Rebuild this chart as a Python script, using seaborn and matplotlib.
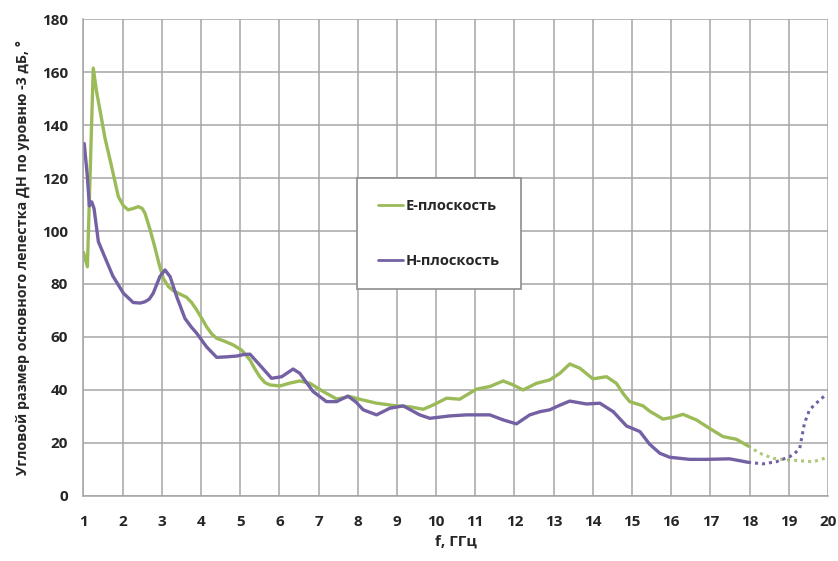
import pandas as pd
import matplotlib.pyplot as plt
import seaborn as sns
from matplotlib.lines import Line2D

# E-плоскость (сплошная часть и пунктирное продолжение)
e_freq = [1.0, 1.1, 1.25, 1.33, 1.42, 1.55, 1.68, 1.89, 2.02, 2.14, 2.27, 2.4, 2.5, 2.57,
          2.7, 2.82, 2.93, 3.04, 3.17, 3.29, 3.46, 3.63, 3.76, 3.89, 4.02, 4.14, 4.27, 4.4,
          4.6, 4.82, 5.04, 5.25, 5.38, 5.5, 5.63, 5.76, 6.01, 6.27, 6.52, 6.78, 7.12, 7.46,
          7.8, 8.05, 8.48, 8.99, 9.35, 9.67, 9.92, 10.27, 10.6, 11.03, 11.37, 11.71, 11.95,
          12.22, 12.56, 12.9, 13.16, 13.41, 13.67, 14.0, 14.35, 14.6, 14.78, 14.94, 15.28,
          15.45, 15.79, 16.05, 16.3, 16.64, 16.98, 17.32, 17.66, 17.96]
e_val = [92, 86.5, 161.5, 153, 145.7, 135, 126.8, 113, 109.5, 108, 108.5, 109.2, 108.5, 106.7,
         100.5, 94, 87.5, 82, 79, 77.5, 76.2, 75, 73, 70.2, 67, 63.9, 61.2, 59.5,
         58.4, 57, 55, 51.3, 47.8, 45, 42.8, 41.9, 41.5, 42.6, 43.4, 42.5, 39.4, 36.6,
         37.5, 36.5, 35, 34, 33.6, 32.7, 34.3, 36.9, 36.5, 40.3, 41.3, 43.4, 42,
         40, 42.5, 43.8, 46.3, 49.8, 48.2, 44.2, 45, 42.5, 38.5, 35.6, 34,
         32, 29, 29.7, 30.8, 28.7, 25.5, 22.4, 21.4, 18.9]
e_freq_ext = [17.96, 18.26, 18.6, 18.94, 19.28, 19.62, 19.87, 19.97]
e_val_ext = [18.9, 16.1, 14.2, 13.6, 13.3, 12.9, 14.0, 14.5]

# H-плоскость
h_freq = [1.02, 1.1, 1.15, 1.21, 1.27, 1.38, 1.55, 1.75, 2.02, 2.27, 2.45, 2.57, 2.68, 2.78,
          2.95, 3.08, 3.21, 3.38, 3.59, 3.75, 3.89, 4.14, 4.4, 4.65, 4.91, 5.1, 5.25, 5.5,
          5.8, 6.06, 6.35, 6.52, 6.86, 7.2, 7.46, 7.75, 7.95, 8.14, 8.48, 8.82, 9.16, 9.58,
          9.84, 10.35, 10.78, 11.37, 11.71, 12.05, 12.39, 12.65, 12.9, 13.15, 13.41, 13.84,
          14.18, 14.52, 14.86, 15.2, 15.45, 15.71, 15.96, 16.47, 16.9, 17.49, 17.75, 17.96]
h_val = [133, 120.5, 109.5, 111, 108.5, 96, 90, 83, 76.5, 73, 72.8, 73.3, 74.3, 76.5,
         82.8, 85.3, 82.8, 75.2, 67, 63.8, 61.4, 56.3, 52.3, 52.5, 52.8, 53.4, 53.5, 49.4,
         44.4, 45, 47.9, 46.3, 39.4, 35.6, 35.6, 37.7, 35.5, 32.5, 30.6, 33.1, 34, 30.6,
         29.3, 30.2, 30.6, 30.6, 28.7, 27.2, 30.6, 31.8, 32.5, 34.2, 35.8, 34.7,
         35, 31.8, 26.4, 24.3, 19.5, 16.1, 14.6, 13.8, 13.8, 14, 13.3, 12.7]
h_freq_ext = [17.96, 18.34, 18.68, 19.02, 19.15, 19.28, 19.4, 19.53, 19.7, 19.87, 19.97]
h_val_ext = [12.7, 12.1, 12.9, 14.8, 16, 18, 27.4, 32.5, 35, 37.2, 38.5]

x_ticks = list(range(1, 21))
y_ticks = list(range(0, 181, 20))

green = "#9bbb59"
purple = "#7461a3"
grid_col = "#a6a6a6"

sns.set_theme(style="white")
plt.rcParams["font.family"] = ["Open Sans", "DejaVu Sans"]

fig = plt.figure(figsize=(8.38, 5.61), dpi=100)
ax = fig.add_axes([0.0996, 0.116, 0.8884, 0.85])

df_e = pd.DataFrame({"f": e_freq, "v": e_val})
df_e2 = pd.DataFrame({"f": e_freq_ext, "v": e_val_ext})
df_h = pd.DataFrame({"f": h_freq, "v": h_val})
df_h2 = pd.DataFrame({"f": h_freq_ext, "v": h_val_ext})

sns.lineplot(data=df_e, x="f", y="v", ax=ax, color=green, linewidth=2.4,
             sort=False, estimator=None)
sns.lineplot(data=df_h, x="f", y="v", ax=ax, color=purple, linewidth=2.4,
             sort=False, estimator=None)
sns.lineplot(data=df_e2, x="f", y="v", ax=ax, color=green, linewidth=2.2, alpha=0.8,
             linestyle=(0, (1, 1.3)), sort=False, estimator=None)
sns.lineplot(data=df_h2, x="f", y="v", ax=ax, color=purple, linewidth=2.2,
             linestyle=(0, (1, 1.3)), sort=False, estimator=None)

ax.set_xlim(1, 20)
ax.set_ylim(0, 180)
ax.set_xticks(x_ticks)
ax.set_yticks(y_ticks)
ax.grid(True, color=grid_col, linewidth=1.1)
ax.set_axisbelow(True)
for side in ["top", "right"]:
    ax.spines[side].set_visible(False)
for side in ["left", "bottom"]:
    ax.spines[side].set_color(grid_col)
    ax.spines[side].set_linewidth(1.1)

ax.tick_params(axis="x", direction="out", length=5, color=grid_col, pad=9,
               labelsize=11, labelcolor="#262626")
ax.tick_params(axis="y", direction="out", length=5, color=grid_col, pad=6,
               labelsize=11, labelcolor="#262626")
for lbl in ax.get_xticklabels() + ax.get_yticklabels():
    lbl.set_fontweight("bold")

ax.set_xlabel("f, ГГц", fontsize=11, fontweight="bold", color="#262626", labelpad=4)
ax.set_ylabel("Угловой размер основного лепестка ДН по уровню -3 дБ, °", fontsize=10.3,
              fontweight="bold", color="#262626", labelpad=9)

handles = [Line2D([0], [0], color=green, linewidth=2),
           Line2D([0], [0], color=purple, linewidth=2)]
leg = ax.legend(handles, ["E-плоскость", "H-плоскость"], loc="upper left",
                bbox_to_anchor=(0.367, 0.667), fancybox=False, framealpha=1,
                edgecolor="#8c8c8c", handlelength=1.7, handletextpad=0.2,
                labelspacing=2.8, borderpad=1.45, borderaxespad=0,
                prop={"weight": "bold", "size": 10.5})
leg.get_frame().set_linewidth(1.2)
for t in leg.get_texts():
    t.set_color("#262626")

fig.savefig("out.png", dpi=100)
